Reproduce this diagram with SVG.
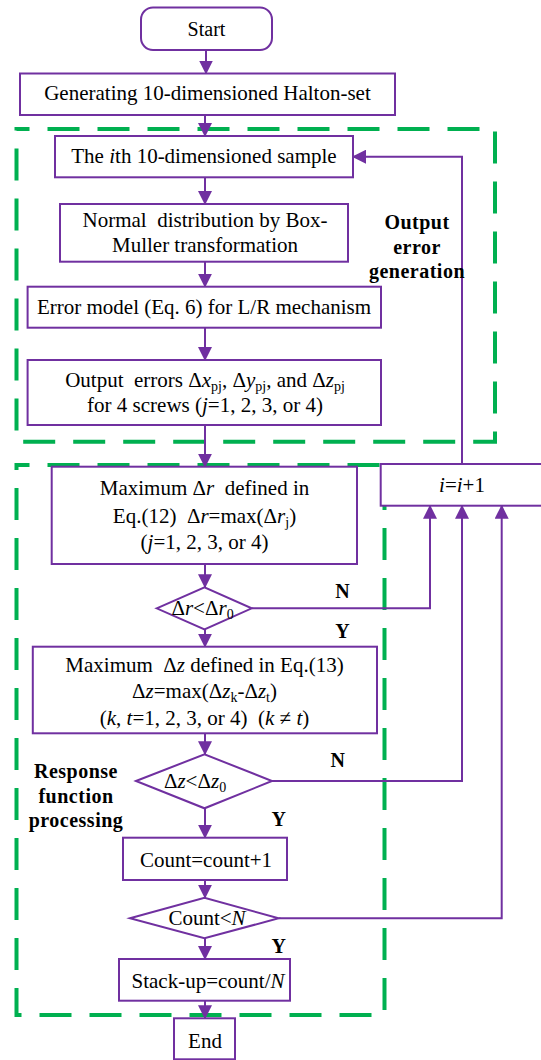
<svg xmlns="http://www.w3.org/2000/svg" width="541" height="1060" viewBox="0 0 541 1060">
<style>
.n{fill:#fff;stroke:#7030A0;stroke-width:2}
.c{fill:none;stroke:#7030A0;stroke-width:2}
.g{fill:none;stroke:#00B050;stroke-width:4;stroke-dasharray:32 18}
text{font-family:"Liberation Serif","Times New Roman",serif;font-size:21px;fill:#000;text-anchor:middle}
.b{font-weight:bold;font-size:20px;letter-spacing:0.5px}
.i{font-style:italic}
.s{font-size:14px}
</style>
<defs>
<marker id="ah" markerUnits="userSpaceOnUse" markerWidth="14" markerHeight="14" refX="13" refY="7" orient="auto">
<path d="M0,0 L14,7 L0,14 z" fill="#7030A0"/>
</marker>
</defs>
<g id="regions">
<path class="g" stroke-dashoffset="19" d="M16.5,129 H495 V441.7 H16.5 Z"/>
<path class="g" stroke-dashoffset="19" d="M16.5,465 H384.5 V1015 H16.5 Z"/>
</g>
<g id="connectors">
<path class="c" marker-end="url(#ah)" d="M206,50 V73.5"/>
<path class="c" marker-end="url(#ah)" d="M205,115 V136"/>
<path class="c" marker-end="url(#ah)" d="M205,177.3 V204"/>
<path class="c" marker-end="url(#ah)" d="M205,261.7 V286.7"/>
<path class="c" marker-end="url(#ah)" d="M205,327.7 V360"/>
<path class="c" marker-end="url(#ah)" d="M205,425 V466.7"/>
<path class="c" marker-end="url(#ah)" d="M205,564 V587.3"/>
<path class="c" marker-end="url(#ah)" d="M205,629.3 V646.7"/>
<path class="c" marker-end="url(#ah)" d="M205,733.3 V754.3"/>
<path class="c" marker-end="url(#ah)" d="M205,808.3 V837.7"/>
<path class="c" marker-end="url(#ah)" d="M205,880 V897.7"/>
<path class="c" marker-end="url(#ah)" d="M205,938.3 V959"/>
<path class="c" marker-end="url(#ah)" d="M205,1000.7 V1018.3"/>
<path class="c" marker-end="url(#ah)" d="M462,464 V156.7 H353"/>
<path class="c" marker-end="url(#ah)" d="M251.7,608.3 H430 V505.7"/>
<path class="c" marker-end="url(#ah)" d="M272,781 H462 V505.7"/>
<path class="c" marker-end="url(#ah)" d="M278.6,918.3 H501.7 V505.7"/>
<text class="b" x="342.7" y="598.3">N</text>
<text class="b" x="342.7" y="638">Y</text>
<text class="b" x="338" y="766.7">N</text>
<text class="b" x="279" y="826">Y</text>
<text class="b" x="279" y="953.3">Y</text>
</g>
<g id="start">
<rect class="n" x="141" y="7.5" width="131" height="42.5" rx="12"/>
<text x="206.5" y="36" style="font-size:20px">Start</text>
</g>
<g id="halton">
<rect class="n" x="20" y="73.5" width="375" height="41.5"/>
<text x="207.5" y="100">Generating 10-dimensioned Halton-set</text>
</g>
<g id="sample">
<rect class="n" x="55" y="136" width="298" height="41.3"/>
<text x="204" y="163">The <tspan class="i">i</tspan>th 10-dimensioned sample</text>
</g>
<g id="boxmuller">
<rect class="n" x="60" y="204" width="288" height="57.7"/>
<text x="205" y="227" xml:space="preserve">Normal  distribution by Box-</text>
<text x="205" y="252">Muller transformation</text>
</g>
<g id="errormodel">
<rect class="n" x="27.6" y="286.7" width="353.4" height="41"/>
<text x="204" y="313.5">Error model (Eq. 6) for L/R mechanism</text>
</g>
<g id="outputerrors">
<rect class="n" x="27.6" y="360" width="353.4" height="65"/>
<text x="205" y="387" xml:space="preserve">Output  errors Δ<tspan class="i">x</tspan><tspan class="s" dy="4">pj</tspan><tspan dy="-4">, Δ</tspan><tspan class="i">y</tspan><tspan class="s" dy="4">pj</tspan><tspan dy="-4">, and Δ</tspan><tspan class="i">z</tspan><tspan class="s" dy="4">pj</tspan></text>
<text x="205" y="412">for 4 screws (<tspan class="i">j</tspan>=1, 2, 3, or 4)</text>
</g>
<g id="increment">
<rect class="n" x="380.7" y="464" width="170" height="41.7"/>
<text x="462" y="491.7"><tspan class="i">i</tspan>=<tspan class="i">i</tspan>+1</text>
</g>
<g id="maxdr">
<rect class="n" x="51.7" y="466.7" width="305.3" height="97.3"/>
<text x="204.5" y="495" xml:space="preserve">Maximum Δ<tspan class="i">r</tspan>  defined in</text>
<text x="204.5" y="522.7" xml:space="preserve">Eq.(12)  Δ<tspan class="i">r</tspan>=max(Δ<tspan class="i">r</tspan><tspan class="s" dy="4">j</tspan><tspan dy="-4">)</tspan></text>
<text x="204.5" y="549.3">(<tspan class="i">j</tspan>=1, 2, 3, or 4)</text>
</g>
<g id="checkdr">
<polygon class="n" points="156.7,608.3 204.5,587.3 251.7,608.3 204.5,629.3"/>
<text x="202.5" y="615">Δ<tspan class="i">r</tspan>&lt;Δ<tspan class="i">r</tspan><tspan class="s" dy="4">0</tspan></text>
</g>
<g id="maxdz">
<rect class="n" x="32.8" y="646.7" width="344.2" height="86.6"/>
<text x="204.5" y="671.7" xml:space="preserve">Maximum  Δ<tspan class="i">z</tspan> defined in Eq.(13)</text>
<text x="204.5" y="698.3">Δ<tspan class="i">z</tspan>=max(Δ<tspan class="i">z</tspan><tspan class="s" dy="4">k</tspan><tspan dy="-4">-Δ</tspan><tspan class="i">z</tspan><tspan class="s" dy="4">t</tspan><tspan dy="-4">)</tspan></text>
<text x="204.5" y="725" xml:space="preserve">(<tspan class="i">k</tspan>, <tspan class="i">t</tspan>=1, 2, 3, or 4)  (<tspan class="i">k</tspan> ≠ <tspan class="i">t</tspan>)</text>
</g>
<g id="checkdz">
<polygon class="n" points="136,781 204.5,754.3 272,781 204.5,808.3"/>
<text x="195" y="788.3">Δ<tspan class="i">z</tspan>&lt;Δ<tspan class="i">z</tspan><tspan class="s" dy="4">0</tspan></text>
</g>
<g id="count">
<rect class="n" x="123" y="837.7" width="164" height="42.3"/>
<text x="206" y="866.7">Count=count+1</text>
</g>
<g id="checkcount">
<polygon class="n" points="130,918.3 204.5,897.7 278.6,918.3 204.5,938.3"/>
<text x="207" y="925">Count&lt;<tspan class="i">N</tspan></text>
</g>
<g id="stackup">
<rect class="n" x="119" y="959" width="171" height="41.7"/>
<text x="208" y="988.3">Stack-up=count/<tspan class="i">N</tspan></text>
</g>
<g id="end">
<rect class="n" x="174" y="1018.3" width="61" height="41"/>
<text x="205" y="1048.3">End</text>
</g>
<g id="labels">
<text class="b" x="417" y="229">Output</text>
<text class="b" x="417" y="254">error</text>
<text class="b" x="417" y="278">generation</text>
<text class="b" x="76" y="778">Response</text>
<text class="b" x="76" y="803">function</text>
<text class="b" x="76" y="827">processing</text>
</g>
</svg>
